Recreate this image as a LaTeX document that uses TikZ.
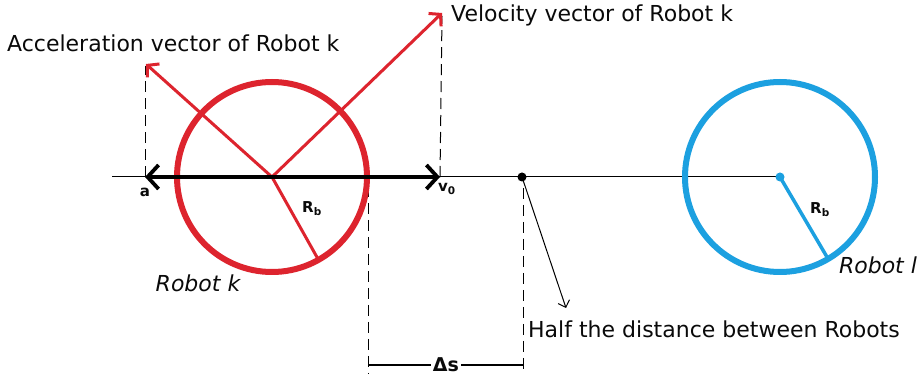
\documentclass[tikz,border=0pt]{standalone}
\usepackage{fontspec}
\setmainfont{DejaVu Sans}
\usetikzlibrary{arrows.meta}
\definecolor{rk}{RGB}{221,36,46}
\definecolor{bl}{RGB}{28,160,224}
\definecolor{tx}{RGB}{10,10,10}
\tikzset{
  bigtxt/.style={text=tx,font=\fontsize{22}{26}\selectfont,inner sep=0pt},
  itxt/.style={text=tx,font=\fontsize{22}{26}\selectfont\itshape,inner sep=0pt},
  smalltxt/.style={text=tx,font=\fontsize{15}{17}\selectfont\bfseries,inner sep=0pt},
  guide/.style={black,line width=1pt,dash pattern=on 11pt off 6pt},
  redvec/.style={rk,line width=3pt,-{Straight Barb[length=8pt,width=18pt,line width=3pt]}},
}
\begin{document}
\begin{tikzpicture}[x=1pt,y=-1pt]
\useasboundingbox (0,0) rectangle (922,379);
\fill[white] (0,0) rectangle (922,379);
% key points
\coordinate (ck) at (272,177);
\coordinate (cl) at (780,177);
\coordinate (axl) at (112,177);
\coordinate (atip) at (145,177);
\coordinate (vtip) at (440,177);
\coordinate (acc) at (146,64);
\coordinate (vel) at (442,13);
\coordinate (acctop) at (145,66);
\coordinate (veltop) at (442,16);
\coordinate (rkend) at (318,259);
\coordinate (rlend) at (827,257);
\coordinate (hd) at (522,177);
\coordinate (htip) at (566,308);
\coordinate (d1t) at (368,186);
\coordinate (d1b) at (368,374);
\coordinate (d2t) at (523,188);
\coordinate (d2b) at (523,374);
% axis
\draw[black,line width=1pt] (axl) -- (cl);
% guides
\draw[guide] (atip) -- (acctop);
\draw[guide] (vtip) -- (veltop);
\draw[guide] (d1t) -- (d1b);
\draw[guide] (d2t) -- (d2b);
% circles
\draw[rk,line width=6pt] (ck) circle[radius=95];
\draw[bl,line width=6pt] (cl) circle[radius=95];
% radii
\draw[rk,line width=3pt] (ck) -- (rkend);
\draw[bl,line width=3.5pt] (cl) -- (rlend);
\fill[bl] (cl) circle[radius=4.5];
% red vectors
\draw[redvec] (ck) -- (acc);
\draw[redvec] (ck) -- (vel);
% black double arrow
\draw[black,line width=3.8pt,{Straight Barb[length=11pt,width=24pt,line width=3.8pt]}-{Straight Barb[length=11pt,width=24pt,line width=3.8pt]}] (atip) -- (vtip);
% half point
\fill[black] (hd) circle[radius=4.5];
\draw[black,line width=1pt,-{Straight Barb[length=6pt,width=12pt,line width=1pt]}] (hd) -- (htip);
% delta s
\node[text=tx,font=\fontsize{19}{22}\selectfont\bfseries,inner sep=2pt] (dsl) at (446,365) {Δs};
\draw[black,line width=1.1pt] (dsl.west -| d1t) -- (dsl.west);
\draw[black,line width=1.1pt] (dsl.east) -- (dsl.east -| d2t);
% labels
\node[bigtxt,anchor=west] (acct) at (7,43) {Acceleration vector of Robot k};
\node[bigtxt,anchor=west] (velt) at (451,15) {Velocity vector of Robot k};
\node[bigtxt,anchor=west] (half) at (528,329) {Half the distance between Robots};
\node[itxt] (rkl) at (198,283) {Robot k};
\node[itxt] (rll) at (878,265) {Robot l};
\node[smalltxt] (al) at (145,192) {a};
\node[smalltxt] (vl) at (447,189) {v\textsubscript{0}};
\node[smalltxt] (rb1) at (312,209) {R\textsubscript{b}};
\node[smalltxt] (rb2) at (820,210) {R\textsubscript{b}};
\end{tikzpicture}
\end{document}
